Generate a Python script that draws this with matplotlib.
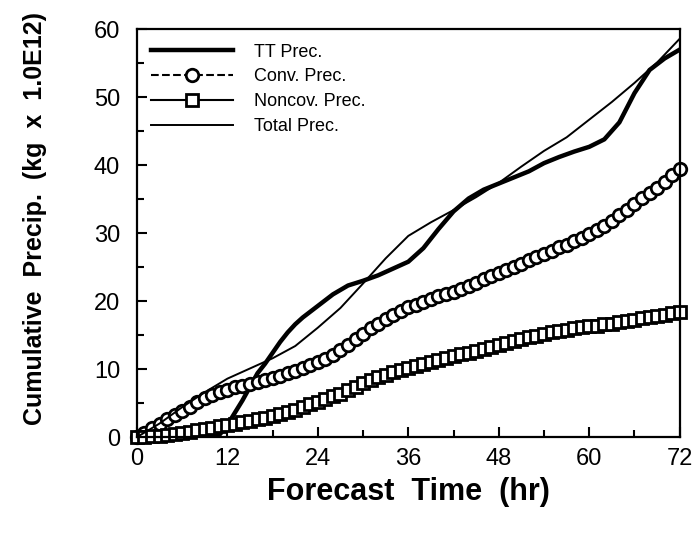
import matplotlib
matplotlib.use("Agg")
import matplotlib.pyplot as plt
import numpy as np

# hourly convective and non-convective precip (markers every hour)
hours = np.arange(0, 73)
conv_prec = [0.0, 0.6, 1.3, 2.0, 2.7, 3.3, 3.9, 4.5, 5.1, 5.7,
             6.2, 6.6, 7.0, 7.3, 7.5, 7.8, 8.1, 8.4, 8.7, 9.0,
             9.4, 9.8, 10.2, 10.6, 11.0, 11.5, 12.1, 12.8, 13.6, 14.4,
             15.2, 16.0, 16.7, 17.4, 18.0, 18.6, 19.1, 19.5, 19.9, 20.3,
             20.7, 21.0, 21.4, 21.8, 22.2, 22.7, 23.2, 23.7, 24.2, 24.6,
             25.0, 25.5, 26.0, 26.5, 27.0, 27.4, 27.9, 28.3, 28.8, 29.3,
             29.9, 30.5, 31.1, 31.8, 32.6, 33.4, 34.3, 35.1, 35.9, 36.7,
             37.6, 38.5, 39.5]
nonconv_prec = [0.0, 0.0, 0.1, 0.2, 0.3, 0.4, 0.6, 0.8, 1.0, 1.2,
                1.4, 1.6, 1.8, 2.0, 2.2, 2.4, 2.6, 2.8, 3.1, 3.4,
                3.7, 4.0, 4.4, 4.8, 5.2, 5.6, 6.0, 6.4, 6.9, 7.4,
                7.9, 8.4, 8.8, 9.2, 9.6, 9.9, 10.2, 10.5, 10.8, 11.1,
                11.4, 11.7, 11.9, 12.2, 12.4, 12.7, 12.9, 13.2, 13.5, 13.8,
                14.1, 14.4, 14.7, 14.9, 15.2, 15.4, 15.6, 15.8, 16.0, 16.2,
                16.3, 16.4, 16.6, 16.7, 16.9, 17.1, 17.3, 17.5, 17.7, 17.8,
                18.0, 18.2, 18.4]

# total precip (thin line)
total_t = [0, 3, 6, 9, 12, 15, 18, 21, 24, 27, 30, 33, 36, 39, 42, 45,
           48, 51, 54, 57, 60, 63, 66, 69, 72]
total_prec = [0.0, 2.0, 4.4, 6.6, 8.6, 10.1, 11.6, 13.4, 16.1, 19.0, 22.6,
              26.3, 29.6, 31.6, 33.4, 35.3, 37.4, 39.8, 42.1, 44.1, 46.7,
              49.3, 52.1, 55.1, 58.6]

# TT precip (thick line)
tt_t = [0, 2, 4, 6, 8, 10, 11, 12, 13, 14, 15, 16, 17, 18, 19, 20, 21, 22,
        24, 26, 28, 30, 32, 34, 36, 38, 40, 42, 44, 46, 48, 50, 52, 54, 56,
        58, 60, 62, 64, 66, 68, 70, 72]
tt_prec = [0.0, 0.0, 0.0, 0.0, 0.0, 0.1, 0.4, 1.8, 3.6, 5.4, 7.4, 9.4, 10.8,
           12.4, 14.0, 15.4, 16.6, 17.6, 19.3, 21.0, 22.3, 23.0, 23.8, 24.8,
           25.8, 27.8, 30.6, 33.2, 35.1, 36.4, 37.3, 38.2, 39.1, 40.3, 41.2,
           42.0, 42.7, 43.8, 46.3, 50.6, 54.0, 55.7, 57.0]

fig = plt.figure(figsize=(6.95, 5.41), dpi=100)
ax = fig.add_axes([0.197, 0.192, 0.781, 0.754])

ax.plot(tt_t, tt_prec, color='black', lw=3.2, label='TT Prec.')
ax.plot(hours, conv_prec, color='black', lw=1.5, ls='--', marker='o',
        ms=9, mfc='white', mec='black', mew=2, clip_on=False,
        label='Conv. Prec.')
ax.plot(hours, nonconv_prec, color='black', lw=1.5, marker='s',
        ms=8.5, mfc='white', mec='black', mew=2, clip_on=False,
        label='Noncov. Prec.')
ax.plot(total_t, total_prec, color='black', lw=1.4, label='Total Prec.')

ax.set_xlim(0, 72)
ax.set_ylim(0, 60)
ax.set_xticks(range(0, 73, 12))
ax.set_xticks(range(0, 73, 6), minor=True)
ax.set_yticks(range(0, 61, 10))
ax.set_yticks(range(0, 61, 5), minor=True)
ax.tick_params(which='both', direction='in', width=1.5, top=False, right=False)
ax.tick_params(which='major', length=7, labelsize=17)
ax.tick_params(axis='x', which='major', pad=8)
ax.tick_params(axis='y', which='major', pad=12)
ax.tick_params(which='minor', length=5)
for s in ax.spines.values():
    s.set_linewidth(1.6)

ax.set_xlabel('Forecast  Time  (hr)', fontsize=22, fontweight='bold',
              family='Liberation Sans', labelpad=5)
ax.set_ylabel('Cumulative  Precip.  (kg  x  1.0E12)', fontsize=18,
              fontweight='bold', family='Liberation Sans')
ax.yaxis.set_label_coords(-0.166, 0.537)
for lab in ax.get_xticklabels() + ax.get_yticklabels():
    lab.set_family('Liberation Sans')

leg = ax.legend(loc='upper left', frameon=False,
                prop={'family': 'Liberation Sans', 'size': 13},
                handlelength=4.5, handletextpad=1.2, labelspacing=0.43,
                borderaxespad=0.5, borderpad=0.3)

fig.savefig('out.png', dpi=100)
